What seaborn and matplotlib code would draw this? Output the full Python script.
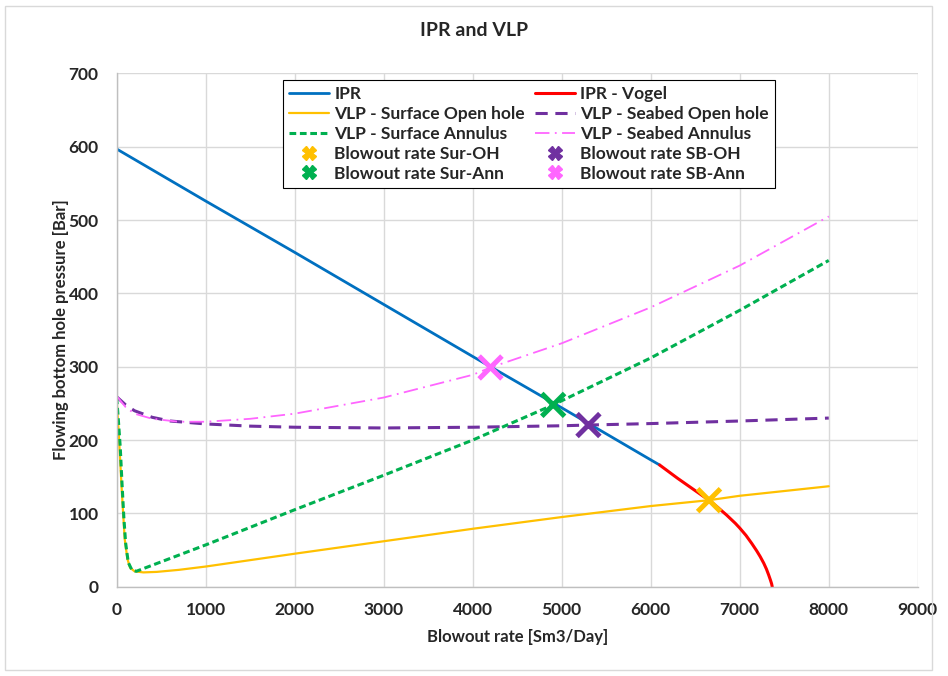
import matplotlib
matplotlib.use("Agg")
import matplotlib.pyplot as plt
from matplotlib.lines import Line2D
from matplotlib.patches import Rectangle
import seaborn as sns
import pandas as pd

# Inflow performance (linear section and Vogel section)
ipr_rate = [0, 1000, 2000, 3000, 4000, 5000, 6000, 6100]
ipr_p = [597, 526, 456, 385, 314, 244, 173, 166]
vogel_rate = [6100, 6200, 6300, 6400, 6500, 6600, 6655, 6750, 6850, 6950, 7000, 7070, 7135,
              7190, 7230, 7270, 7300, 7325, 7345, 7358, 7365]
vogel_p = [166, 157, 148, 139.5, 131, 122.5, 118, 108.5, 98, 86.5, 80, 70, 59,
           49, 41, 32, 24, 16, 9, 4, 0]

# Vertical lift performance curves
surf_oh_rate = [0, 20, 40, 60, 90, 120, 150, 200, 300, 450, 700, 1000, 2000, 3000, 4000, 5000, 6000, 6655, 7000, 8000]
surf_oh_p = [254, 215, 170, 125, 65, 38, 26, 21, 19.5, 20.2, 23, 27.5, 45, 62, 79, 95, 110, 118, 124, 137]
surf_ann_rate = [0, 20, 40, 60, 80, 100, 130, 170, 220, 1000, 2000, 3000, 4000, 4904, 6000, 7000, 8000]
surf_ann_p = [258, 225, 190, 140, 95, 60, 33, 23, 21, 57, 105, 152, 200, 248, 312, 377, 445]
sb_oh_rate = [0, 100, 200, 400, 600, 1000, 1500, 2000, 3000, 4000, 5000, 5300, 6000, 7000, 8000]
sb_oh_p = [259, 248, 240, 231, 226, 222, 219, 217.5, 216.5, 217.5, 219.5, 220.5, 222.5, 226, 230]
sb_ann_rate = [0, 100, 200, 400, 700, 1000, 1500, 2000, 3000, 4000, 4200, 5000, 6000, 7000, 8000]
sb_ann_p = [260, 245, 236, 229, 225, 225, 229, 236, 258, 289, 299, 332, 381, 438, 505]

# Blowout rates (IPR / VLP intersections)
blowout_names = ["Blowout rate Sur-OH", "Blowout rate SB-OH", "Blowout rate Sur-Ann", "Blowout rate SB-Ann"]
blowout_rate = [6655, 5300, 4904, 4200]
blowout_p = [118, 220.5, 248, 299]
blowout_colors = ["#FFC000", "#7030A0", "#00B050", "#FF66FF"]

x_ticks = list(range(0, 9001, 1000))
y_ticks = list(range(0, 701, 100))

sns.set_theme(style="whitegrid")
plt.rcParams["font.family"] = ["Lato", "DejaVu Sans"]
plt.rcParams["font.weight"] = "bold"

fig = plt.figure(figsize=(9.48, 6.76), dpi=100)
ax = fig.add_axes([0.1231, 0.1321, 0.8450, 0.7592])

def curve(rate, p, color, lw, ls, label):
    df = pd.DataFrame({"rate": rate, "p": p})
    sns.lineplot(data=df, x="rate", y="p", ax=ax, color=color, linewidth=lw,
                 linestyle=ls, sort=False, estimator=None, label=label, legend=False)

curve(ipr_rate, ipr_p, "#0070C0", 2.0, "-", "IPR")
curve(vogel_rate, vogel_p, "#FF0000", 2.2, "-", "IPR - Vogel")
curve(surf_oh_rate, surf_oh_p, "#FFC000", 1.6, "-", "VLP - Surface Open hole")
curve(sb_oh_rate, sb_oh_p, "#7030A0", 2.2, (0, (4, 2.5)), "VLP - Seabed Open hole")
curve(surf_ann_rate, surf_ann_p, "#00B050", 2.2, (0, (2.2, 1.2)), "VLP - Surface Annulus")
curve(sb_ann_rate, sb_ann_p, "#FF66FF", 1.3, (0, (8, 3, 1, 3)), "VLP - Seabed Annulus")

bo = pd.DataFrame({"rate": blowout_rate, "p": blowout_p, "name": blowout_names})
sns.scatterplot(data=bo, x="rate", y="p", hue="name", palette=dict(zip(blowout_names, blowout_colors)),
                marker="x", s=270, linewidth=3.6, ax=ax, legend=False, zorder=5)

ax.set_xlim(0, 9000)
ax.set_ylim(0, 700)
ax.set_xticks(x_ticks)
ax.set_yticks(y_ticks)
ax.tick_params(axis="x", labelsize=12.5, length=0, pad=11)
ax.tick_params(axis="y", labelsize=12.5, length=0, pad=13)
for lbl in ax.get_xticklabels() + ax.get_yticklabels():
    lbl.set_fontweight("bold")
ax.grid(True, color="#D9D9D9", linewidth=1.0)
ax.set_facecolor("white")
for side in ["top", "right"]:
    ax.spines[side].set_visible(False)
for side in ["bottom", "left"]:
    ax.spines[side].set_color("#BFBFBF")
    ax.spines[side].set_linewidth(1.0)

ax.set_xlabel("Blowout rate [Sm3/Day]", fontsize=12, fontweight="bold", labelpad=8)
ax.set_ylabel("Flowing bottom hole pressure [Bar]", fontsize=12, fontweight="bold", labelpad=0)
fig.text(0.5, 0.955, "IPR and VLP", ha="center", va="center", fontsize=14, fontweight="bold")

def line_h(color, lw, ls):
    return Line2D([], [], color=color, linewidth=lw, linestyle=ls)

def mark_h(color):
    return Line2D([], [], color=color, marker="X", markersize=10, linestyle="none")

handles = [
    line_h("#0070C0", 2.0, "-"),
    line_h("#FFC000", 1.6, "-"),
    line_h("#00B050", 2.2, (0, (2.2, 1.2))),
    mark_h(blowout_colors[0]),
    mark_h(blowout_colors[2]),
    line_h("#FF0000", 2.2, "-"),
    line_h("#7030A0", 2.2, (0, (4, 2.5))),
    line_h("#FF66FF", 1.3, (0, (8, 3, 1, 3))),
    mark_h(blowout_colors[1]),
    mark_h(blowout_colors[3]),
]
labels = [
    "IPR", "VLP - Surface Open hole", "VLP - Surface Annulus", blowout_names[0], blowout_names[2],
    "IPR - Vogel", "VLP - Seabed Open hole", "VLP - Seabed Annulus", blowout_names[1], blowout_names[3],
]
leg = ax.legend(handles, labels, ncol=2, loc="upper left", bbox_to_anchor=(0.2076, 0.987),
                frameon=True, fancybox=False, edgecolor="black", framealpha=1,
                prop={"size": 12.5, "weight": "bold"}, handlelength=2.3, handletextpad=0.3,
                columnspacing=0.6, labelspacing=0.22, borderpad=0.35, borderaxespad=0)
leg.get_frame().set_linewidth(0.8)

fig.patches.append(Rectangle((5 / 948, 6 / 676), 927 / 948, 664 / 676, transform=fig.transFigure,
                             fill=False, edgecolor="#D9D9D9", linewidth=1.0))

fig.savefig("out.png", dpi=100)
